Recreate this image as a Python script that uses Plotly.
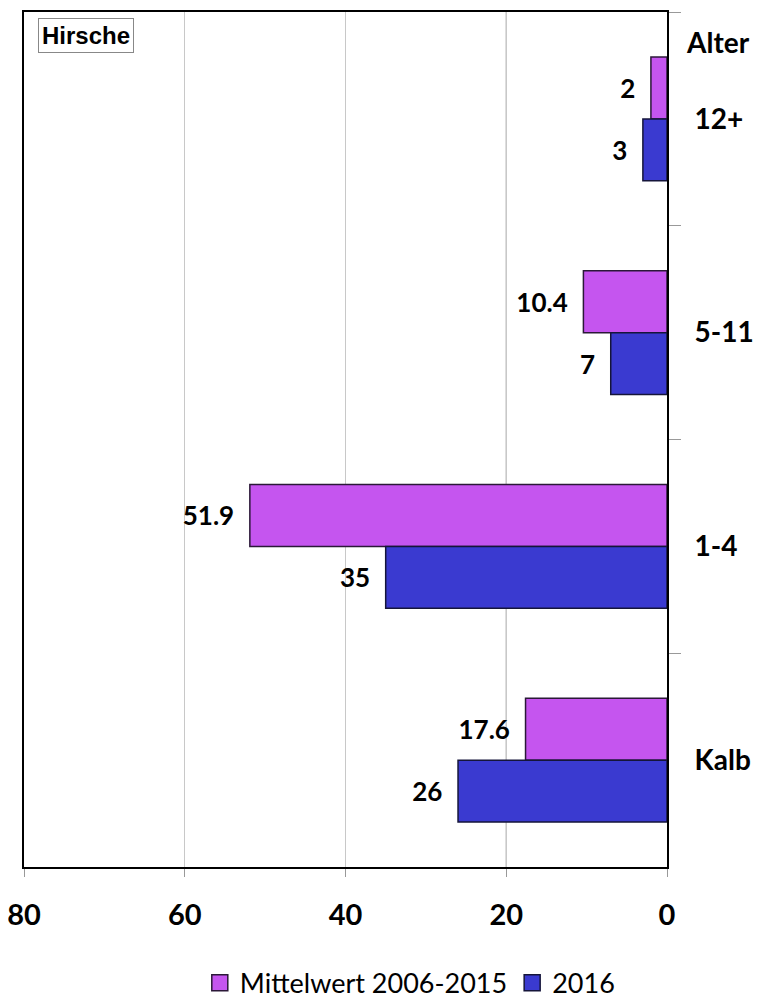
import plotly.graph_objects as go

categories = ["12+", "5-11", "1-4", "Kalb"]
mittelwert = [2, 10.4, 51.9, 17.6]
jahr2016 = [3, 7, 35, 26]
series_names = ["Mittelwert 2006-2015", "2016"]
x_ticks = [0, 20, 40, 60, 80]

FONT = "Lato"
colors = ["#C555EF", "#3A3AD0"]
outline = ["#2b1838", "#15153a"]

def fmt(v):
    return (f"{v:g}") + "\u00a0\u00a0"

fig = go.Figure()
for vals, name, c, o in [(mittelwert, series_names[0], colors[0], outline[0]),
                         (jahr2016, series_names[1], colors[1], outline[1])]:
    fig.add_trace(go.Bar(
        y=categories, x=vals, orientation="h", name=name, showlegend=False,
        marker=dict(color=c, line=dict(color=o, width=1.5)),
        text=[fmt(v) for v in vals], textposition="outside",
        textfont=dict(family=FONT, size=26, color="black", weight="bold"),
        cliponaxis=False,
    ))
# legend entries with larger square symbols
for name, c, o in zip(series_names, colors, outline):
    fig.add_trace(go.Scatter(
        x=[None], y=[None], mode="markers", name=name,
        marker=dict(symbol="square", size=18, color=c, line=dict(color=o, width=1.5)),
    ))

# darker gridline at 20
fig.add_shape(type="line", xref="x", yref="paper", x0=20, x1=20, y0=0, y1=1,
              line=dict(color="#7a7a7a", width=1), layer="below")

fig.add_annotation(text="<b>Hirsche</b>", xref="paper", yref="paper",
                   x=0.022, y=0.993, xanchor="left", yanchor="top",
                   showarrow=False, font=dict(family="Liberation Sans", size=24, color="black"),
                   bordercolor="#888888", borderwidth=1, borderpad=3, bgcolor="white")
fig.add_annotation(text="<b>Alter</b>", xref="paper", yref="paper",
                   x=1.079, y=0.965, xanchor="center", yanchor="middle",
                   showarrow=False, font=dict(family=FONT, size=28, color="black"))

fig.update_layout(
    width=755, height=996,
    margin=dict(l=16, r=96, t=4, b=137, autoexpand=False),
    plot_bgcolor="white", paper_bgcolor="white",
    barmode="group", bargap=0.42, bargroupgap=0,
    xaxis=dict(range=[80, 0], tickvals=x_ticks, ticktext=[str(t) for t in x_ticks],
               showgrid=True, gridcolor="#c8c8c8", gridwidth=1,
               showline=True, linecolor="black", linewidth=2, mirror=True,
               ticks="outside", ticklen=8, tickcolor="#999999",
               tickfont=dict(family=FONT, size=29, color="black", weight="bold"),
               ticklabelstandoff=13, ticklabeloverflow="allow", automargin=False,
               zeroline=False, fixedrange=True),
    yaxis=dict(side="right", autorange="reversed", type="category",
               categoryorder="array", categoryarray=categories,
               showline=True, linecolor="black", linewidth=2, mirror=True,
               ticks="outside", ticklen=12, tickcolor="#999999",
               tickson="boundaries",
               tickfont=dict(family=FONT, size=28, color="black", weight="bold"),
               ticklabelstandoff=20, ticklabeloverflow="allow", automargin=False,
               showgrid=False, zeroline=False),
    legend=dict(orientation="h", x=0.60, xanchor="center", y=-0.136, yanchor="middle",
                font=dict(family=FONT, size=27, color="black"), traceorder="normal",
                itemsizing="trace", itemwidth=30),
    showlegend=True,
)

fig.write_html("out.html")
